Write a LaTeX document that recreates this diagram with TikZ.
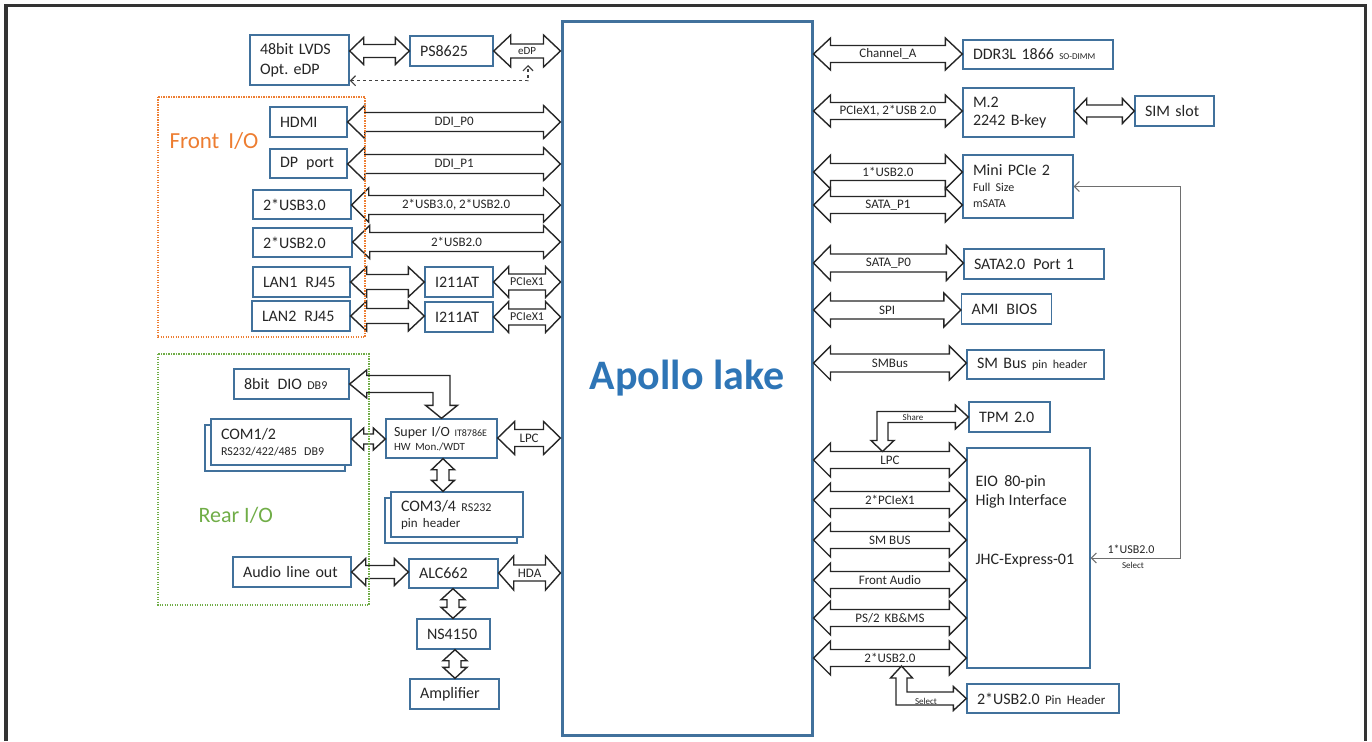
\documentclass[tikz,border=0pt]{standalone}
\usepackage{fontspec}
\setmainfont{Carlito}
\usepackage{tikz}
\usetikzlibrary{calc,arrows.meta,shadows}
\frenchspacing
\definecolor{boxc}{RGB}{65,113,156}
\definecolor{apollo}{RGB}{46,117,182}
\definecolor{frontc}{RGB}{237,125,49}
\definecolor{rearc}{RGB}{112,173,71}
\definecolor{txt}{RGB}{38,38,38}
\definecolor{selc}{RGB}{110,110,110}
\newcommand{\fsz}[2]{\fontsize{#1}{#2}\selectfont}
\newcommand{\gap}{~\,}
\newcommand{\hbus}[7]{%
  \draw[bus] let \p1=(#1), \p2=(#2), \p3=(0,#3) in
    (\x1,\y3) -- (\x1+#6pt,\y3+#5pt) -- (\x1+#6pt,\y3+#4pt) -- (\x2-#6pt,\y3+#4pt)
    -- (\x2-#6pt,\y3+#5pt) -- (\x2,\y3) -- (\x2-#6pt,\y3-#5pt) -- (\x2-#6pt,\y3-#4pt)
    -- (\x1+#6pt,\y3-#4pt) -- (\x1+#6pt,\y3-#5pt) -- cycle
    ({(\x1+\x2)/2},\y3) node[lbl] {#7};}
\newcommand{\vbus}[6]{%
  \draw[bus] let \p1=(#1), \p2=(#2), \p3=(#3,0) in
    (\x3,\y1) -- (\x3+#5pt,\y1-#6pt) -- (\x3+#4pt,\y1-#6pt) -- (\x3+#4pt,\y2+#6pt)
    -- (\x3+#5pt,\y2+#6pt) -- (\x3,\y2) -- (\x3-#5pt,\y2+#6pt) -- (\x3-#4pt,\y2+#6pt)
    -- (\x3-#4pt,\y1-#6pt) -- (\x3-#5pt,\y1-#6pt) -- cycle;}
\begin{document}
\begin{tikzpicture}[x=1pt, y=-1pt,
  bx/.style={draw=boxc, line width=1.4pt, fill=white, text=txt, inner xsep=10pt, inner ysep=0pt, align=left, font=\fsz{16}{19}},
  mainbox/.style={draw=boxc, line width=3pt, minimum width=250pt, minimum height=713pt, text=apollo, font=\fsz{42}{42}\bfseries},
  bus/.style={draw=black!85, line width=1.4pt, fill=white, line join=miter},
  lbl/.style={inner sep=0pt, text=txt, font=\fsz{13}{13}},
  tinylbl/.style={inner sep=0pt, text=txt, font=\fsz{9}{9}},
  thinarrow/.style={line width=1pt, {Straight Barb[length=5pt,width=10pt]}-{Straight Barb[length=5pt,width=10pt]}},
  shadowed/.style={copy shadow={shadow xshift=-6pt, shadow yshift=-6pt}}]
\useasboundingbox (0,0) rectangle (1372,741);
\draw[line width=3.5pt, draw=black!80] (6,741) -- (6,5.5) -- (1365.5,5.5) -- (1365.5,741);

\node[mainbox] (main) at (687,378.5) {Apollo lake};

\node[bx, text width=79pt, minimum height=50pt, font=\fsz{16}{20}] (lvds) at (299.5,60) {48bit LVDS\\Opt. eDP};
\node[bx, text width=63pt, minimum height=30pt] (ps) at (451.5,51) {PS8625};
\node[bx, text width=57pt, minimum height=30pt] (hdmi) at (308.5,122) {HDMI};
\node[bx, text width=57pt, minimum height=29pt] (dp) at (308.5,163.5) {DP\gap port};
\node[bx, text width=78pt, minimum height=29pt] (usb3) at (302,204.5) {2*USB3.0};
\node[bx, text width=79pt, minimum height=29pt] (usb2) at (302.5,242.5) {2*USB2.0};
\node[bx, text width=77pt, minimum height=30pt] (lan1) at (301.5,282) {LAN1\gap RJ45};
\node[bx, text width=78pt, minimum height=30pt] (lan2) at (301,316) {LAN2\gap RJ45};
\node[bx, text width=48pt, minimum height=30pt] (nic1) at (459,282) {I211AT};
\node[bx, text width=48pt, minimum height=30pt] (nic2) at (459,317) {I211AT};
\node[bx, text width=95pt, minimum height=30pt] (dio) at (291.5,384) {8bit\gap DIO {\fsz{12}{12}DB9}};
\node[bx, shadowed, text width=120pt, minimum height=46pt, font=\fsz{16}{16}] (com12) at (281,442) {COM1/2\\{\fsz{12}{16}RS232/422/485\gap DB9}};
\node[bx, text width=95pt, inner xsep=8pt, minimum height=39pt, font=\fsz{14}{14}] (sio) at (441.5,438.5) {Super I/O {\fsz{10}{10}IT8786E}\\{\fsz{11}{14}HW Mon./WDT}};
\node[bx, shadowed, text width=112pt, minimum height=45pt, font=\fsz{16}{16}] (com34) at (457,514.5) {COM3/4 {\fsz{12}{12}RS232}\\{\fsz{13}{16}pin header}};
\node[bx, text width=98pt, minimum height=30pt] (audio) at (292,572) {Audio line out};
\node[bx, text width=69pt, minimum height=29pt] (alc) at (453.5,573.5) {ALC662};
\node[bx, text width=53pt, minimum height=30pt] (ns) at (453.5,634) {NS4150};
\node[bx, text width=69pt, minimum height=30pt] (amp) at (454.5,694) {Amplifier};

\node[bx, text width=130pt, minimum height=29pt] (ddr) at (1038,54.5) {DDR3L 1866 {\fsz{9}{9}SO-DIMM}};
\node[bx, text width=91pt, minimum height=49pt, font=\fsz{16}{18}] (m2) at (1018.5,112.5) {M.2\\2242 B-key};
\node[bx, text width=59pt, minimum height=30pt] (sim) at (1174.5,111) {SIM slot};
\node[bx, text width=90pt, minimum height=63pt, font=\fsz{16}{16}] (mpcie) at (1018,186.5) {Mini PCIe 2\\{\fsz{12}{16}Full Size}\\{\fsz{12}{15}mSATA}};
\node[bx, text width=120pt, minimum height=30pt] (sata) at (1034,264) {SATA2.0\gap Port 1};
\node[bx, text width=70pt, minimum height=30pt] (bios) at (1006.5,309) {AMI\gap BIOS};
\node[bx, text width=117pt, minimum height=29pt] (smb) at (1035.5,364.5) {SM Bus {\fsz{12}{12}pin header}};
\node[bx, text width=61pt, minimum height=30pt] (tpm) at (1009.5,417) {TPM 2.0};
\node[bx, minimum width=123pt, minimum height=220pt] (eio) at (1028.5,558) {};
\node[anchor=west, text=txt, align=left, font=\fsz{16}{19}] (eiotop) at (972,492) {EIO\gap 80-pin\\High Interface};
\node[anchor=west, text=txt, font=\fsz{16}{19}] (eiobot) at (972,561) {JHC-Express-01};
\node[bx, text width=132pt, minimum height=29pt] (usbh) at (1043,698.5) {2*USB2.0 {\fsz{13}{13}Pin Header}};

\hbus{lvds.east}{ps.west}{51}{6.5}{13.5}{14}{}
\hbus{ps.east}{main.west}{51}{7}{16}{17}{\fsz{11}{11}eDP}
\hbus{hdmi.east}{main.west}{122}{9.5}{16.5}{17}{DDI\_P0}
\hbus{dp.east}{main.west}{164}{9.5}{16.5}{17}{DDI\_P1}
\hbus{usb3.east}{main.west}{205}{9.5}{17}{17}{2*USB3.0, 2*USB2.0}
\hbus{usb2.east}{main.west}{242}{9.5}{16.5}{17}{2*USB2.0}
\hbus{lan1.east}{nic1.west}{282}{7.5}{15}{16}{}
\hbus{lan2.east}{nic2.west}{316}{7.5}{15}{16}{}
\hbus{nic1.east}{main.west}{282}{8}{15.5}{15}{\fsz{12}{12}PCIeX1}
\hbus{nic2.east}{main.west}{317}{8}{15.5}{15}{\fsz{12}{12}PCIeX1}
\hbus{com12.east}{sio.west}{439}{5}{11}{12}{}
\hbus{sio.east}{main.west}{438}{8.5}{16.5}{17}{LPC}
\hbus{audio.east}{alc.west}{572}{6.5}{13.5}{14}{}
\hbus{alc.east}{main.west}{573}{8}{17}{15}{HDA}
\vbus{sio.south}{com34.north}{443}{6}{11.5}{11}
\vbus{alc.south}{ns.north}{453}{6}{12}{11}
\vbus{ns.south}{amp.north}{455}{6}{12}{11}

\draw[bus] let \p1=(dio.east), \p2=(sio.north) in
  (\x1,\y1) -- (\x1+17pt,\y1+14pt) -- (\x1+17pt,\y1+8.5pt) -- (\x2+8.5pt,\y1+8.5pt)
  -- (\x2+8.5pt,\y2+13pt) -- (\x2+16pt,\y2+13pt) -- (\x2,\y2) -- (\x2-16pt,\y2+13pt)
  -- (\x2-8.5pt,\y2+13pt) -- (\x2-8.5pt,\y1-8.5pt) -- (\x1+17pt,\y1-8.5pt) -- (\x1+17pt,\y1-14pt) -- cycle;

\coordinate (edpTap) at (528,65);
\draw[thinarrow, dashed, line width=1.2pt, draw=black!75] ([yshift=5pt]lvds.south east) -| (edpTap);

\hbus{main.east}{ddr.west}{54}{8.5}{16}{17}{Channel\_A}
\hbus{main.east}{m2.west}{111}{8.5}{16}{17}{PCIeX1, 2*USB 2.0}
\hbus{m2.east}{sim.west}{111}{6}{12.5}{12}{}
\hbus{main.east}{mpcie.west}{172}{8.5}{17}{17}{1*USB2.0}
\hbus{main.east}{mpcie.west}{205}{8.5}{17}{17}{SATA\_P1}
\hbus{main.east}{sata.west}{263}{9}{17.5}{17}{SATA\_P0}
\hbus{main.east}{bios.west}{310}{9}{17}{17}{SPI}
\hbus{main.east}{smb.west}{363}{9}{17}{17}{SMBus}
\hbus{main.east}{eio.west}{460}{8.5}{17}{17}{LPC}
\hbus{main.east}{eio.west}{500}{8.5}{17}{17}{2*PCIeX1}
\hbus{main.east}{eio.west}{540}{8.5}{17}{17}{SM BUS}
\hbus{main.east}{eio.west}{580}{8.5}{17}{17}{Front Audio}
\hbus{main.east}{eio.west}{618}{8.5}{17}{17}{PS/2\gap KB\&MS}
\hbus{main.east}{eio.west}{658}{8.5}{17}{17}{2*USB2.0}

\coordinate (lpcTop) at (882.5,451.5);
\draw[bus] let \p1=(tpm.west), \p2=(lpcTop) in
  (\x1,\y1) -- (\x1-13pt,\y1+12pt) -- (\x1-13pt,\y1+5.5pt) -- (\x2-5.5pt,\y1+5.5pt)
  -- (\x2-5.5pt,\y2+11pt) -- (\x2-11.5pt,\y2+11pt) -- (\x2,\y2) -- (\x2+11.5pt,\y2+11pt)
  -- (\x2+5.5pt,\y2+11pt) -- (\x2+5.5pt,\y1-5.5pt) -- (\x1-13pt,\y1-5.5pt) -- (\x1-13pt,\y1-12pt) -- cycle;
\node[tinylbl] (sharelbl) at (913,417.5) {Share};

\coordinate (selTop) at (901.5,666);
\draw[bus] let \p1=(usbh.west), \p2=(selTop) in
  (\x1,\y1) -- (\x1-13pt,\y1+12pt) -- (\x1-13pt,\y1+6.5pt) -- (\x2+5.5pt,\y1+6.5pt)
  -- (\x2+5.5pt,\y2-12pt) -- (\x2+11pt,\y2-12pt) -- (\x2,\y2) -- (\x2-11pt,\y2-12pt)
  -- (\x2-5.5pt,\y2-12pt) -- (\x2-5.5pt,\y1-6.5pt) -- (\x1-13pt,\y1-6.5pt) -- (\x1-13pt,\y1-12pt) -- cycle;
\node[tinylbl] (sellbl) at (926,701) {Select};

\coordinate (usbSel) at (1180,372);
\draw[thinarrow, draw=selc] (eio.east) -| (usbSel) |- (mpcie.east);
\node[lbl, font=\fsz{12}{12}] (usbSelA) at (1131,549) {1*USB2.0};
\node[tinylbl] (usbSelB) at (1133,565) {Select};

\draw[draw=frontc, line width=1.2pt, dash pattern=on 1.2pt off 1.3pt] (158,97) rectangle (365,337);
\node[anchor=west, text=frontc, font=\fsz{23}{23}] (frontlbl) at (166,141) {Front\gap I/O};
\draw[draw=rearc, line width=1.2pt, dash pattern=on 1.2pt off 1.3pt] (158,354) rectangle (369,605);
\node[anchor=west, text=rearc, font=\fsz{22}{22}] (rearlbl) at (195,515) {Rear I/O};
\end{tikzpicture}
\end{document}
